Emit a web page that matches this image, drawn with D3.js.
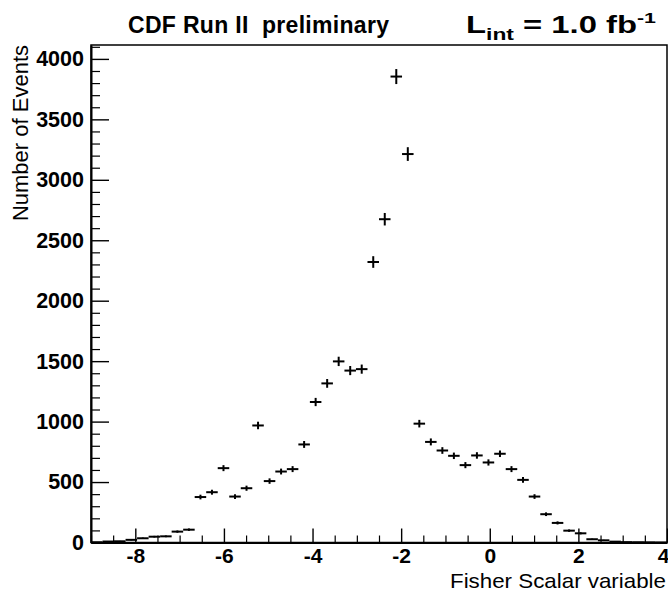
<!DOCTYPE html>
<html>
<head>
<meta charset="utf-8">
<script src="https://cdn.jsdelivr.net/npm/d3@7"></script>
<style>
  body { margin: 0; background: #fff; }
  svg { display: block; font-family: "Liberation Sans", Arial, Helvetica, sans-serif; }
</style>
</head>
<body>
<svg id="chart"></svg>
<script>
// bin edges of the histogram (50 bins from -9 to 4)
const binEdges = [-9, -8.74, -8.48, -8.22, -7.96, -7.70, -7.44, -7.18, -6.92, -6.66,
    -6.40, -6.14, -5.88, -5.62, -5.36, -5.10, -4.84, -4.58, -4.32, -4.06,
    -3.80, -3.54, -3.28, -3.02, -2.76, -2.50, -2.24, -1.98, -1.72, -1.46,
    -1.20, -0.94, -0.68, -0.42, -0.16, 0.10, 0.36, 0.62, 0.88, 1.14,
    1.40, 1.66, 1.92, 2.18, 2.44, 2.70, 2.96, 3.22, 3.48, 3.74, 4.00]

// events per bin
const binCounts = [2, 8, 10, 22, 35, 48, 51, 90, 106, 376,
    416, 615, 380, 449, 968, 508, 587, 607, 811, 1162,
    1316, 1498, 1422, 1434, 2320, 2674, 3854, 3213, 983, 832,
    761, 717, 640, 720, 662, 734, 607, 518, 380, 234,
    162, 98, 76, 27, 18, 7, 3, 2, 1, 0]

const xTicks = [-8, -6, -4, -2, 0, 2, 4]
const yTicks = [0, 500, 1000, 1500, 2000, 2500, 3000, 3500, 4000]

const width = 668
const height = 592
const margin = { top: 45, right: 1, bottom: 49.5, left: 91 }

const svg = d3.select('#chart')
    .attr('width', width)
    .attr('height', height)

const x = d3.scaleLinear()
    .domain([-9, 4])
    .range([margin.left, width - margin.right])

const y = d3.scaleLinear()
    .domain([0, 4115])
    .range([height - margin.bottom, margin.top])

// frame
svg.append('rect')
    .attr('x', margin.left)
    .attr('y', margin.top)
    .attr('width', width - margin.right - margin.left)
    .attr('height', height - margin.bottom - margin.top)
    .attr('fill', 'none')
    .attr('stroke', '#000')
    .attr('stroke-width', 1.5)

// minor ticks
const xMinor = d3.range(-9, 4.001, 0.5).filter(v => !xTicks.includes(v))
svg.append('g')
    .attr('transform', `translate(0,${y(0)})`)
    .call(d3.axisBottom(x).tickValues(xMinor).tickSizeInner(-7).tickSizeOuter(0).tickFormat(''))
    .call(g => g.select('.domain').remove())
    .selectAll('line').attr('stroke-width', 1.2)

const yMinor = d3.range(0, 4101, 100).filter(v => !yTicks.includes(v))
svg.append('g')
    .attr('transform', `translate(${x(-9)},0)`)
    .call(d3.axisLeft(y).tickValues(yMinor).tickSizeInner(-9).tickSizeOuter(0).tickFormat(''))
    .call(g => g.select('.domain').remove())
    .selectAll('line').attr('stroke-width', 1.2)

// major axes
const xAxis = svg.append('g')
    .attr('transform', `translate(0,${y(0)})`)
    .call(d3.axisBottom(x).tickValues(xTicks).tickSizeInner(-14).tickSizeOuter(0)
        .tickPadding(6).tickFormat(d => String(d)))
xAxis.select('.domain').attr('stroke-width', 2)
xAxis.selectAll('line').attr('stroke-width', 1.4)
xAxis.selectAll('text')
    .attr('font-size', 21)
    .attr('font-weight', 'bold')
    .attr('font-family', null)
    .attr('fill', '#000')
    .attr('dx', d => d === 4 ? -4 : 0)

const yAxis = svg.append('g')
    .attr('transform', `translate(${x(-9)},0)`)
    .call(d3.axisLeft(y).tickValues(yTicks).tickSizeInner(-18).tickSizeOuter(0)
        .tickPadding(7).tickFormat(d => String(d)))
yAxis.select('.domain').attr('stroke-width', 2)
yAxis.selectAll('line').attr('stroke-width', 1.4)
yAxis.selectAll('text')
    .attr('font-size', 21.5)
    .attr('font-weight', 'bold')
    .attr('font-family', null)
    .attr('fill', '#000')

// data points with error bars
const bins = binCounts.map((c, i) => ({ lo: binEdges[i], hi: binEdges[i + 1], n: c }))

const pts = svg.append('g')
    .attr('stroke', '#000')
    .attr('stroke-width', 2)

pts.selectAll('.hbar')
    .data(bins)
    .join('line')
    .attr('class', 'hbar')
    .attr('x1', d => x(d.lo))
    .attr('x2', d => x(d.hi))
    .attr('y1', d => y(d.n))
    .attr('y2', d => y(d.n))

pts.selectAll('.vbar')
    .data(bins.filter(d => d.n > 0))
    .join('line')
    .attr('class', 'vbar')
    .attr('x1', d => x((d.lo + d.hi) / 2))
    .attr('x2', d => x((d.lo + d.hi) / 2))
    .attr('y1', d => y(Math.max(0, d.n - Math.sqrt(d.n))))
    .attr('y2', d => y(d.n + Math.sqrt(d.n)))

// titles
svg.append('text')
    .attr('x', 128)
    .attr('y', 33)
    .attr('font-size', 23)
    .attr('font-weight', 'bold')
    .attr('textLength', 261)
    .attr('lengthAdjust', 'spacing')
    .style('white-space', 'pre')
    .text('CDF Run II  preliminary')

const lum = svg.append('text')
    .attr('x', 466)
    .attr('y', 33)
    .attr('font-size', 23)
    .attr('font-weight', 'bold')
    .attr('textLength', 190)
    .attr('lengthAdjust', 'spacingAndGlyphs')
    .style('white-space', 'pre')
lum.append('tspan').text('L')
lum.append('tspan').attr('font-size', 16).attr('dy', 7).text('int')
lum.append('tspan').attr('dy', -7).text(' = 1.0 fb')
lum.append('tspan').attr('font-size', 15).attr('dy', -10).text('-1')

svg.append('text')
    .attr('transform', `translate(28,${margin.top}) rotate(-90)`)
    .attr('text-anchor', 'end')
    .attr('font-size', 22)
    .text('Number of Events')

svg.append('text')
    .attr('x', 666)
    .attr('y', 588)
    .attr('text-anchor', 'end')
    .attr('font-size', 21)
    .attr('textLength', 216)
    .attr('lengthAdjust', 'spacingAndGlyphs')
    .text('Fisher Scalar variable')
</script>
</body>
</html>
